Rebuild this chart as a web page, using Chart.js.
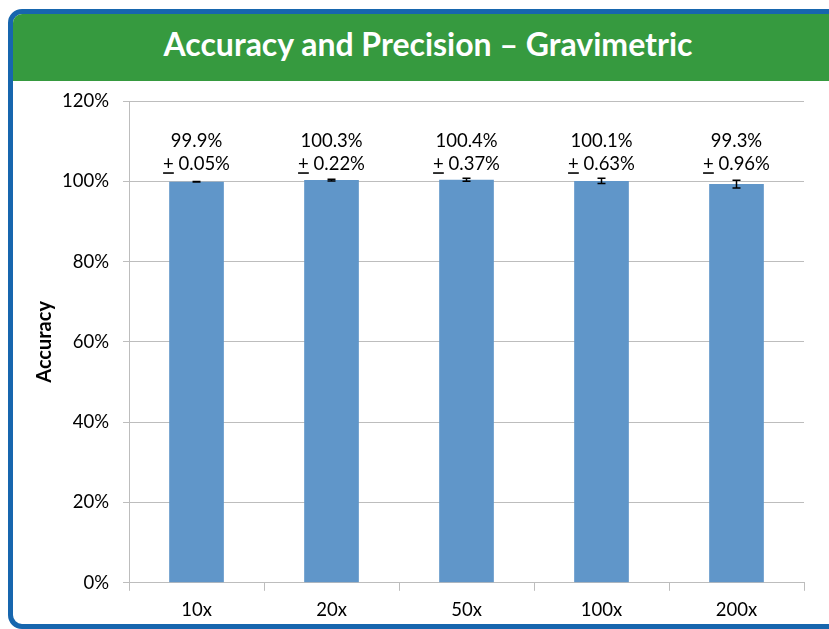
<!DOCTYPE html>
<html>
<head>
<meta charset="utf-8">
<script src="https://cdn.jsdelivr.net/npm/chart.js@4"></script>
<style>
  html, body { margin: 0; padding: 0; width: 829px; height: 629px; overflow: hidden; background: #fff; font-family: Lato, "Open Sans", sans-serif; }
  #frame { position: absolute; left: 8px; top: 9px; width: 850px; height: 610px; border: 5px solid #1766AE; border-radius: 14px; overflow: hidden; background: #fff; }
  #header { position: absolute; left: 0; top: 0; width: 830px; height: 67px; background: #369A3F; color: #fff; font-weight: bold; font-size: 32px; text-align: center; line-height: 60px; }
  #wrap { position: absolute; left: 0; top: 0; width: 829px; height: 629px; }
</style>
</head>
<body>
<div id="frame"><div id="header">Accuracy and Precision – Gravimetric</div></div>
<div id="wrap"><canvas id="c" width="829" height="629"></canvas></div>
<script>
const categories = ["10x", "20x", "50x", "100x", "200x"];
const accuracy = [99.9, 100.3, 100.4, 100.1, 99.3];
const precision = [0.05, 0.22, 0.37, 0.63, 0.96];
const yTicks = [0, 20, 40, 60, 80, 100, 120];
const yTitle = 'Accuracy';

const extras = {
  id: 'extras',
  afterDatasetsDraw(chart) {
    const ctx = chart.ctx;
    const meta = chart.getDatasetMeta(0);
    const y = chart.scales.y;
    const area = chart.chartArea;
    ctx.save();
    ctx.save();
    ctx.translate(45, (area.top + area.bottom) / 2);
    ctx.rotate(-Math.PI / 2);
    ctx.fillStyle = '#000';
    ctx.font = 'bold 20px Lato, "Open Sans", sans-serif';
    ctx.textAlign = 'center';
    ctx.textBaseline = 'middle';
    ctx.fillText(yTitle, 0, 0);
    ctx.restore();
    meta.data.forEach((bar, i) => {
      const x = bar.x;
      const v = accuracy[i], e = precision[i];
      const yTop = y.getPixelForValue(v + e), yBot = y.getPixelForValue(v - e);
      ctx.strokeStyle = '#000';
      ctx.lineWidth = 1.5;
      ctx.beginPath();
      ctx.moveTo(x, yTop); ctx.lineTo(x, yBot);
      ctx.moveTo(x - 4, yTop); ctx.lineTo(x + 4, yTop);
      ctx.moveTo(x - 4, yBot); ctx.lineTo(x + 4, yBot);
      ctx.stroke();
      ctx.fillStyle = '#000';
      ctx.font = '18.5px Lato, "Open Sans", sans-serif';
      ctx.textAlign = 'center';
      ctx.textBaseline = 'middle';
      const y1 = y.getPixelForValue(110.0);
      const y2 = y.getPixelForValue(104.3);
      ctx.fillText(v.toFixed(1) + '%', x, y1);
      const rest = ' ' + e.toFixed(2) + '%';
      const wPlus = ctx.measureText('+').width;
      const wRest = ctx.measureText(rest).width;
      const start = x - (wPlus + wRest) / 2;
      ctx.textAlign = 'left';
      ctx.fillText('+', start, y2);
      ctx.fillText(rest, start + wPlus, y2);
      ctx.lineWidth = 1.6;
      ctx.beginPath();
      ctx.moveTo(start, y2 + 9); ctx.lineTo(start + wPlus, y2 + 9);
      ctx.stroke();
    });
    ctx.restore();
  }
};

new Chart(document.getElementById('c'), {
  type: 'bar',
  data: {
    labels: categories,
    datasets: [{ data: accuracy, backgroundColor: '#6096C9', barPercentage: 0.405, categoryPercentage: 1.0 }]
  },
  options: {
    responsive: false,
    animation: false,
    layout: { padding: { left: 48, right: 25, top: 101, bottom: 0 } },
    plugins: { legend: { display: false }, tooltip: { enabled: false } },
    scales: {
      x: {
        grid: { display: true, offset: true, drawOnChartArea: false, color: '#BDBDBD', tickLength: 8 },
        border: { color: '#BDBDBD' },
        ticks: { color: '#000', font: { size: 18.5, family: 'Lato' }, padding: 8 }
      },
      y: {
        min: 0, max: 120,
        afterBuildTicks(axis) { axis.ticks = yTicks.map(v => ({ value: v })); },
        grid: { color: '#BDBDBD', tickLength: 6 },
        border: { color: '#BDBDBD' },
        ticks: { color: '#000', font: { size: 18.5, family: 'Lato' }, padding: 14, callback: v => v + '%' }
      }
    }
  },
  plugins: [extras]
});
</script>
</body>
</html>
